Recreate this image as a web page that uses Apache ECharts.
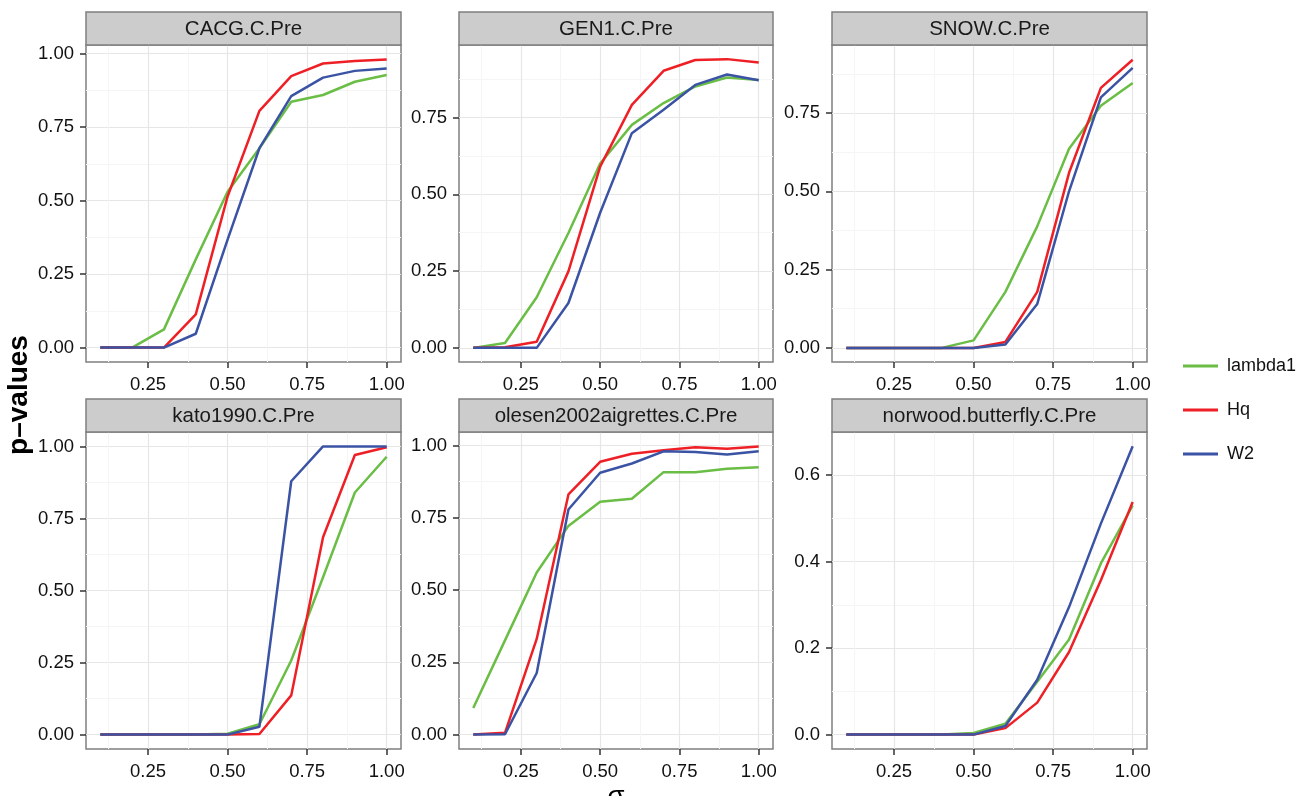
<!DOCTYPE html>
<html>
<head>
<meta charset="utf-8">
<script src="https://cdn.jsdelivr.net/npm/echarts@6/dist/echarts.min.js"></script>
<style>
html, body { margin: 0; padding: 0; background: #fff; }
#main { width: 1298px; height: 796px; }
</style>
</head>
<body>
<div id="main"></div>
<script>
// sigma values shared by every panel
var sigma = [0.1, 0.2, 0.3, 0.4, 0.5, 0.6, 0.7, 0.8, 0.9, 1.0];

var cacgLambda1 = [0, 0, 0.062, 0.30, 0.53, 0.678, 0.836, 0.859, 0.904, 0.927];
var cacgHq      = [0, 0, 0, 0.113, 0.514, 0.805, 0.923, 0.966, 0.975, 0.98];
var cacgW2      = [0, 0, 0, 0.047, 0.367, 0.678, 0.855, 0.918, 0.941, 0.949];

var gen1Lambda1 = [0, 0.016, 0.165, 0.374, 0.60, 0.726, 0.797, 0.851, 0.88, 0.872];
var gen1Hq      = [0, 0.002, 0.02, 0.249, 0.59, 0.791, 0.902, 0.937, 0.94, 0.929];
var gen1W2      = [0, 0, 0, 0.146, 0.44, 0.699, 0.775, 0.856, 0.89, 0.871];

var snowLambda1 = [0, 0, 0, 0, 0.024, 0.179, 0.388, 0.636, 0.773, 0.846];
var snowHq      = [0, 0, 0, 0, 0, 0.019, 0.179, 0.559, 0.83, 0.92];
var snowW2      = [0, 0, 0, 0, 0, 0.011, 0.14, 0.50, 0.80, 0.894];

var katoLambda1 = [0, 0, 0, 0, 0.003, 0.036, 0.257, 0.546, 0.84, 0.964];
var katoHq      = [0, 0, 0, 0, 0, 0.002, 0.136, 0.685, 0.97, 0.997];
var katoW2      = [0, 0, 0, 0, 0, 0.027, 0.879, 1.0, 1.0, 1.0];

var olesenLambda1 = [0.092, 0.326, 0.561, 0.722, 0.806, 0.816, 0.908, 0.908, 0.92, 0.925];
var olesenHq      = [0, 0.006, 0.331, 0.831, 0.944, 0.972, 0.984, 0.994, 0.989, 0.997];
var olesenW2      = [0, 0.001, 0.213, 0.779, 0.906, 0.938, 0.98, 0.978, 0.969, 0.98];

var norwoodLambda1 = [0, 0, 0, 0, 0.004, 0.025, 0.122, 0.22, 0.396, 0.53];
var norwoodHq      = [0, 0, 0, 0, 0, 0.015, 0.074, 0.191, 0.357, 0.538];
var norwoodW2      = [0, 0, 0, 0, 0, 0.02, 0.127, 0.295, 0.488, 0.667];

var panelTitles = ['CACG.C.Pre', 'GEN1.C.Pre', 'SNOW.C.Pre',
	'kato1990.C.Pre', 'olesen2002aigrettes.C.Pre', 'norwood.butterfly.C.Pre'];
var seriesNames = ['lambda1', 'Hq', 'W2'];
var panelData = [
	[cacgLambda1, cacgHq, cacgW2],
	[gen1Lambda1, gen1Hq, gen1W2],
	[snowLambda1, snowHq, snowW2],
	[katoLambda1, katoHq, katoW2],
	[olesenLambda1, olesenHq, olesenW2],
	[norwoodLambda1, norwoodHq, norwoodW2]
];

// tick labels
var xTicks = [0.25, 0.5, 0.75, 1.0];
var xMinor = [0.125, 0.375, 0.625, 0.875];
var yTicks4 = [0, 0.25, 0.5, 0.75, 1.0];
var yTicks3 = [0, 0.25, 0.5, 0.75];
var yTicksNorwood = [0, 0.2, 0.4, 0.6];
var yMinor4 = [0.125, 0.375, 0.625, 0.875];
var yMinorNorwood = [0.1, 0.3, 0.5];

var panelYTicks = [yTicks4, yTicks3, yTicks3, yTicks4, yTicks4, yTicksNorwood];
var panelYMinor = [yMinor4, yMinor4, yMinor4, yMinor4, yMinor4, yMinorNorwood];
var panelYRange = [[-0.049, 1.029], [-0.046, 0.986], [-0.045, 0.967],
	[-0.05, 1.05], [-0.05, 1.047], [-0.0333, 0.70]];
var yDigits = [2, 2, 2, 2, 2, 1];

// layout
var colLeft = [86, 459, 832];
var colWidth = [315, 314, 315];
var rowTop = [45, 432];
var panelHeight = 317;
var stripHeight = 33;

var colors = { lambda1: '#6abd45', Hq: '#ee1f25', W2: '#3b53a4' };
var FONT = '"Liberation Sans", Arial, Helvetica, sans-serif';

var grids = [], xAxes = [], yAxes = [], series = [], graphics = [];

panelTitles.forEach(function (title, i) {
	var col = i % 3, row = Math.floor(i / 3);
	var left = colLeft[col], top = rowTop[row], width = colWidth[col];
	grids.push({
		left: left, top: top, width: width, height: panelHeight,
		show: true, borderColor: '#7f7f7f', borderWidth: 1.5, backgroundColor: '#fff'
	});

	// minor grid axes (drawn first so they sit under the major ones)
	xAxes.push({
		type: 'value', gridIndex: i, position: 'bottom', offset: 0, min: 0.055, max: 1.045,
		axisLine: { show: false, onZero: false }, axisLabel: { show: false },
		axisTick: { show: false, customValues: xMinor },
		splitLine: { show: true, lineStyle: { color: '#f5f5f5', width: 1 } }
	});
	yAxes.push({
		type: 'value', gridIndex: i, position: 'left', offset: 0,
		min: panelYRange[i][0], max: panelYRange[i][1],
		axisLine: { show: false, onZero: false }, axisLabel: { show: false },
		axisTick: { show: false, customValues: panelYMinor[i] },
		splitLine: { show: true, lineStyle: { color: '#f5f5f5', width: 1 } }
	});
	// major axes
	xAxes.push({
		type: 'value', gridIndex: i, position: 'bottom', offset: 0, min: 0.055, max: 1.045,
		axisLine: { show: false, onZero: false },
		axisTick: { show: true, inside: false, customValues: xTicks, length: 6, lineStyle: { color: '#333', width: 1.5 } },
		axisLabel: {
			customValues: xTicks, margin: 13, color: '#111', fontSize: 18.5, fontFamily: FONT,
			formatter: function (v) { return v.toFixed(2); }
		},
		splitLine: { show: true, lineStyle: { color: '#e6e6e6', width: 1.2 } }
	});
	yAxes.push({
		type: 'value', gridIndex: i, position: 'left', offset: 0,
		min: panelYRange[i][0], max: panelYRange[i][1],
		axisLine: { show: false, onZero: false },
		axisTick: { show: true, inside: false, customValues: panelYTicks[i], length: 6, lineStyle: { color: '#333', width: 1.5 } },
		axisLabel: {
			customValues: panelYTicks[i], margin: 12, color: '#111', fontSize: 18.5, fontFamily: FONT,
			formatter: (function (d) { return function (v) { return v.toFixed(d); }; })(yDigits[i])
		},
		splitLine: { show: true, lineStyle: { color: '#e6e6e6', width: 1.2 } }
	});

	panelData[i].forEach(function (vals, k) {
		var name = seriesNames[k];
		series.push({
			name: name, type: 'line',
			xAxisIndex: 2 * i + 1, yAxisIndex: 2 * i + 1,
			data: sigma.map(function (x, j) { return [x, vals[j]]; }),
			showSymbol: false, symbol: 'none',
			color: colors[name],
			lineStyle: { width: 2.5, color: colors[name] },
			z: 3 + k
		});
	});

	// facet strip
	graphics.push({
		type: 'rect',
		shape: { x: left, y: top - stripHeight, width: width, height: stripHeight },
		style: { fill: '#cccccc', stroke: '#7f7f7f', lineWidth: 1.5 },
		z: 10
	});
	graphics.push({
		type: 'text',
		x: left + width / 2, y: top - stripHeight / 2 + 1,
		style: {
			text: title, fill: '#1a1a1a', font: '20.5px ' + FONT,
			textAlign: 'center', textVerticalAlign: 'middle'
		},
		z: 11
	});
});

graphics.push({
	type: 'text', x: 19, y: 395, rotation: Math.PI / 2,
	style: {
		text: 'p\u2013values', fill: '#000', font: 'bold 28px ' + FONT,
		textAlign: 'center', textVerticalAlign: 'middle'
	}
});
graphics.push({
	type: 'text', x: 616, y: 783,
	style: {
		text: '\u03c3', fill: '#000', font: '28px ' + FONT,
		textAlign: 'center', textVerticalAlign: 'top'
	}
});

var myChart = echarts.init(document.getElementById('main'));
myChart.setOption({
	animation: false,
	backgroundColor: '#fff',
	grid: grids,
	xAxis: xAxes,
	yAxis: yAxes,
	series: series,
	legend: {
		data: seriesNames,
		orient: 'vertical',
		left: 1178, top: 351,
		icon: 'rect', itemWidth: 35, itemHeight: 3,
		itemGap: 24,
		textStyle: { fontSize: 18, fontFamily: FONT, color: '#111', lineHeight: 20, padding: [0, 0, 0, 4] },
		selectedMode: false
	},
	graphic: graphics
});
</script>
</body>
</html>
